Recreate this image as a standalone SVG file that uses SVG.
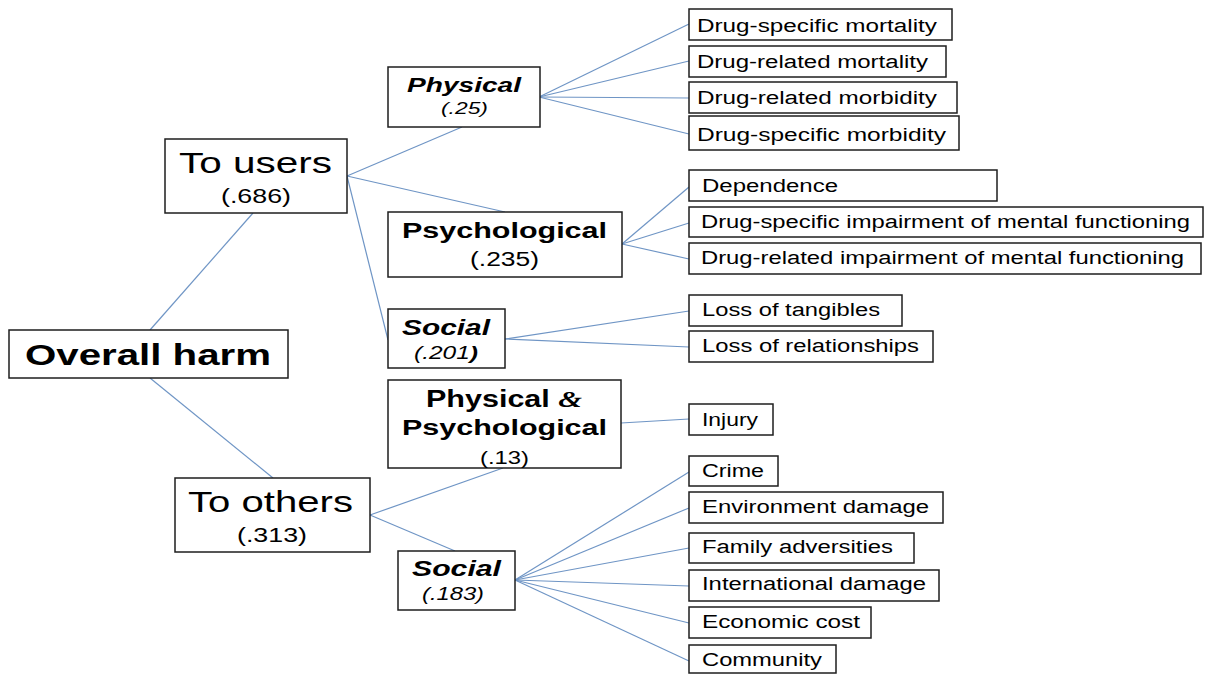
<svg xmlns="http://www.w3.org/2000/svg" width="1205" height="675" viewBox="0 0 1205 675">
<style>
  .box { fill: #ffffff; stroke: #1e1e1e; stroke-width: 1.5; }
  .c { stroke: #6f95c5; stroke-width: 1.2; fill: none; }
  text { font-family: "Liberation Sans", Arial, sans-serif; fill: #000; }
  .leaf { font-size: 18px; }
  .big { font-size: 29px; }
  .num { font-size: 20px; }
  .b { font-weight: bold; }
  .i { font-style: italic; }
</style>
<rect width="1205" height="675" fill="#ffffff"/>

<g id="connectors">
  <line class="c" x1="150" y1="330" x2="253" y2="213"/>
  <line class="c" x1="150" y1="378" x2="273" y2="478"/>
  <line class="c" x1="347" y1="176" x2="462" y2="127"/>
  <line class="c" x1="347" y1="176" x2="505" y2="212"/>
  <line class="c" x1="347" y1="176" x2="388" y2="340"/>
  <line class="c" x1="539" y1="97" x2="689" y2="24"/>
  <line class="c" x1="539" y1="97" x2="689" y2="61"/>
  <line class="c" x1="539" y1="97" x2="689" y2="98"/>
  <line class="c" x1="539" y1="97" x2="689" y2="134"/>
  <line class="c" x1="622" y1="244" x2="689" y2="187"/>
  <line class="c" x1="622" y1="244" x2="689" y2="223"/>
  <line class="c" x1="622" y1="244" x2="689" y2="259"/>
  <line class="c" x1="505" y1="339" x2="689" y2="311"/>
  <line class="c" x1="505" y1="339" x2="689" y2="347"/>
  <line class="c" x1="370" y1="515" x2="503" y2="468"/>
  <line class="c" x1="370" y1="515" x2="455" y2="551"/>
  <line class="c" x1="621" y1="423" x2="689" y2="419"/>
  <line class="c" x1="515" y1="580" x2="689" y2="472"/>
  <line class="c" x1="515" y1="580" x2="689" y2="508"/>
  <line class="c" x1="515" y1="580" x2="689" y2="548"/>
  <line class="c" x1="515" y1="580" x2="689" y2="586"/>
  <line class="c" x1="515" y1="580" x2="689" y2="623"/>
  <line class="c" x1="515" y1="580" x2="689" y2="661"/>
</g>

<g id="overall-harm">
  <rect class="box" x="9" y="330" width="279" height="48"/>
  <text class="b" x="25" y="365" font-size="29" textLength="246" lengthAdjust="spacingAndGlyphs">Overall harm</text>
</g>

<g id="to-users">
  <rect class="box" x="165" y="139" width="182" height="74"/>
  <text class="big" x="179" y="173" textLength="153" lengthAdjust="spacingAndGlyphs">To users</text>
  <text class="num" x="221" y="203" textLength="70" lengthAdjust="spacingAndGlyphs">(.686)</text>
</g>

<g id="to-others">
  <rect class="box" x="175" y="478" width="195" height="74"/>
  <text class="big" x="188" y="512" textLength="165" lengthAdjust="spacingAndGlyphs">To others</text>
  <text class="num" x="237" y="542" textLength="70" lengthAdjust="spacingAndGlyphs">(.313)</text>
</g>

<g id="physical">
  <rect class="box" x="388" y="67" width="152" height="60"/>
  <text class="b i" x="407" y="92" font-size="21" textLength="114" lengthAdjust="spacingAndGlyphs">Physical</text>
  <text class="i" x="441" y="114" font-size="17" textLength="47" lengthAdjust="spacingAndGlyphs">(.25)</text>
</g>

<g id="psychological">
  <rect class="box" x="388" y="212" width="234" height="65"/>
  <text class="b" x="402" y="238" font-size="22" textLength="205" lengthAdjust="spacingAndGlyphs">Psychological</text>
  <text class="num" x="470" y="266" textLength="69" lengthAdjust="spacingAndGlyphs">(.235)</text>
</g>

<g id="social-users">
  <rect class="box" x="388" y="309" width="117" height="59"/>
  <text class="b i" x="402" y="335" font-size="22" textLength="88" lengthAdjust="spacingAndGlyphs">Social</text>
  <text class="i" x="414" y="359" font-size="18" textLength="64" lengthAdjust="spacingAndGlyphs">(.201<tspan class="b">)</tspan></text>
</g>

<g id="physical-psychological">
  <rect class="box" x="388" y="380" width="233" height="88"/>
  <text class="b" x="426" y="407" font-size="23" textLength="156" lengthAdjust="spacingAndGlyphs">Physical <tspan font-family="'Liberation Serif', serif" font-style="italic">&amp;</tspan></text>
  <text class="b" x="402" y="435" font-size="22" textLength="205" lengthAdjust="spacingAndGlyphs">Psychological</text>
  <text x="480" y="464" font-size="18" textLength="49" lengthAdjust="spacingAndGlyphs">(.13)</text>
</g>

<g id="social-others">
  <rect class="box" x="398" y="551" width="117" height="59"/>
  <text class="b i" x="412" y="576" font-size="22" textLength="89" lengthAdjust="spacingAndGlyphs">Social</text>
  <text class="i" x="422" y="600" font-size="18" textLength="62" lengthAdjust="spacingAndGlyphs">(.183)</text>
</g>

<g id="leaf-drug-specific-mortality">
  <rect class="box" x="689" y="9" width="263" height="31"/>
  <text class="leaf" x="697" y="32" textLength="240" lengthAdjust="spacingAndGlyphs">Drug-specific mortality</text>
</g>
<g id="leaf-drug-related-mortality">
  <rect class="box" x="689" y="46" width="257" height="31"/>
  <text class="leaf" x="697" y="68" textLength="231" lengthAdjust="spacingAndGlyphs">Drug-related mortality</text>
</g>
<g id="leaf-drug-related-morbidity">
  <rect class="box" x="689" y="82" width="268" height="31"/>
  <text class="leaf" x="697" y="104" textLength="240" lengthAdjust="spacingAndGlyphs">Drug-related morbidity</text>
</g>
<g id="leaf-drug-specific-morbidity">
  <rect class="box" x="689" y="116" width="270" height="34"/>
  <text class="leaf" x="697" y="141" textLength="249" lengthAdjust="spacingAndGlyphs">Drug-specific morbidity</text>
</g>

<g id="leaf-dependence">
  <rect class="box" x="689" y="170" width="308" height="31"/>
  <text class="leaf" x="702" y="192" textLength="136" lengthAdjust="spacingAndGlyphs">Dependence</text>
</g>
<g id="leaf-drug-specific-impairment">
  <rect class="box" x="689" y="207" width="514" height="30"/>
  <text class="leaf" x="701" y="228" textLength="489" lengthAdjust="spacingAndGlyphs">Drug-specific impairment of mental functioning</text>
</g>
<g id="leaf-drug-related-impairment">
  <rect class="box" x="689" y="243" width="512" height="31"/>
  <text class="leaf" x="701" y="264" textLength="483" lengthAdjust="spacingAndGlyphs">Drug-related impairment of mental functioning</text>
</g>

<g id="leaf-loss-of-tangibles">
  <rect class="box" x="689" y="295" width="213" height="31"/>
  <text class="leaf" x="702" y="316" textLength="178" lengthAdjust="spacingAndGlyphs">Loss of tangibles</text>
</g>
<g id="leaf-loss-of-relationships">
  <rect class="box" x="689" y="331" width="244" height="31"/>
  <text class="leaf" x="702" y="352" textLength="217" lengthAdjust="spacingAndGlyphs">Loss of relationships</text>
</g>

<g id="leaf-injury">
  <rect class="box" x="689" y="404" width="84" height="31"/>
  <text class="leaf" x="702" y="426" textLength="56" lengthAdjust="spacingAndGlyphs">Injury</text>
</g>

<g id="leaf-crime">
  <rect class="box" x="689" y="456" width="89" height="30"/>
  <text class="leaf" x="702" y="477" textLength="62" lengthAdjust="spacingAndGlyphs">Crime</text>
</g>
<g id="leaf-environment-damage">
  <rect class="box" x="689" y="492" width="254" height="31"/>
  <text class="leaf" x="702" y="513" textLength="227" lengthAdjust="spacingAndGlyphs">Environment damage</text>
</g>
<g id="leaf-family-adversities">
  <rect class="box" x="689" y="533" width="225" height="30"/>
  <text class="leaf" x="702" y="553" textLength="191" lengthAdjust="spacingAndGlyphs">Family adversities</text>
</g>
<g id="leaf-international-damage">
  <rect class="box" x="689" y="570" width="250" height="31"/>
  <text class="leaf" x="702" y="590" textLength="224" lengthAdjust="spacingAndGlyphs">International damage</text>
</g>
<g id="leaf-economic-cost">
  <rect class="box" x="689" y="607" width="182" height="31"/>
  <text class="leaf" x="702" y="628" textLength="158" lengthAdjust="spacingAndGlyphs">Economic cost</text>
</g>
<g id="leaf-community">
  <rect class="box" x="689" y="645" width="147" height="28"/>
  <text class="leaf" x="702" y="666" textLength="120" lengthAdjust="spacingAndGlyphs">Community</text>
</g>
</svg>
